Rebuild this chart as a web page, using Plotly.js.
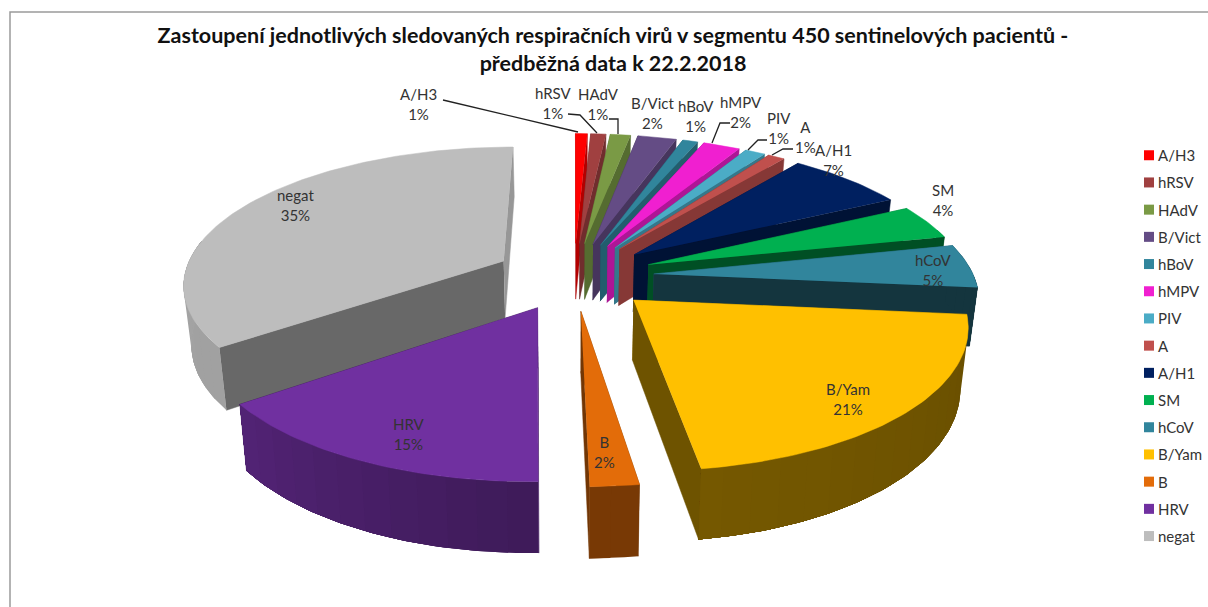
<!DOCTYPE html>
<html><head><meta charset="utf-8">
<script src="https://cdn.plot.ly/plotly-3.0.1.min.js"></script>
<style>html,body{margin:0;padding:0;background:#fff}</style></head>
<body><div id="chart" style="width:1208px;height:607px"></div>
<script>
// ---- data ----
const categories = ['A/H3','hRSV','HAdV','B/Vict','hBoV','hMPV','PIV','A','A/H1','SM','hCoV','B/Yam','B','HRV','negat'];
const values = [0.7,0.9,1.2,2.3,0.9,2.2,1.2,1.0,7,4,5,21,2,15,35];
// ---- styles ----
const colors = ['#ff0000','#a04040','#7a9a45','#644c85','#31859c','#f01fd0','#4bacc6','#c0504d','#002060','#00b050','#31859c','#ffc000','#e36c09','#7030a0','#bdbdbd'];
const outerShadeA = [.6,.6,.6,.6,.6,.6,.6,.6,.5,.45,.4,.41,.53,.56,.85];
const outerShadeB = [.6,.6,.6,.6,.6,.6,.6,.6,.5,.45,.4,.46,.53,.74,.87];
const endShade   = [.7,.7,.7,.7,.7,.72,.7,.7,.55,.45,.4,.43,.5,.6,.8];
const startShade = [.6,.6,.6,.6,.6,.6,.6,.6,.6,.6,.6,.6,.5,.6,.55];
const labelPos = [[418,104],[553,103],[598,104],[652,113],[696,116],[741,112],[779,128],[805,137],[833,160],[943,200],[933,270],[848,399],[604,452],[409,434],[295,205]];
const leaders = [
  [[443,100],[578,132]],
  [[568,114],[580,115],[597,133]],
  [[609,119],[618,119],[618,134]],
  [[730,123],[720,123],[712,143]],
  [[767,140],[758,140],[748,150]],
  [[793,149],[783,149],[772,155]]
];
// ---- projection of the exploded, perspective pie ----
const cx=574, cy=276, A=320, B=136, k=0.155, depth=58, explode=0.25, taper=0.02;
function shade(hex,f){const n=parseInt(hex.slice(1),16);
  return 'rgb('+[(n>>16)&255,(n>>8)&255,n&255].map(c=>Math.round(c*f)).join(',')+')';}
function project(u,v,z){const s=1/(1+k*v);return [cx+A*u*s*(1-taper*z), cy-B*v*s+depth*z*s];}
const total = values.reduce((a,b)=>a+b,0);
const slices=[]; let cum=0;
values.forEach((val,i)=>{
  const a0=cum/total*2*Math.PI; cum+=val; const a1=cum/total*2*Math.PI;
  slices.push({i,a0,a1,mid:(a0+a1)/2});
});
function poly(pts,color,w){return {type:'scatter',mode:'lines',x:pts.map(p=>p[0]),y:pts.map(p=>p[1]),
  fill:'toself',fillcolor:color,line:{color:color,width:w===undefined?0.5:w},hoverinfo:'skip',showlegend:false};}
const traces=[];
slices.slice().sort((p,q)=>Math.cos(q.mid)-Math.cos(p.mid)).forEach(sl=>{
  const i=sl.i, eu=explode*Math.sin(sl.mid), ev=explode*Math.cos(sl.mid), c=colors[i];
  const pt=(a,z)=>project(eu+Math.sin(a),ev+Math.cos(a),z), ap=z=>project(eu,ev,z);
  // radial walls
  traces.push(poly([ap(0),pt(sl.a0,0),pt(sl.a0,1),ap(1)],shade(c,startShade[i])));
  traces.push(poly([ap(0),pt(sl.a1,0),pt(sl.a1,1),ap(1)],shade(c,endShade[i])));
  // outer wall in shaded bands (each band overlays the rest of the wall), then top face
  const n=Math.max(3,Math.ceil((sl.a1-sl.a0)/0.02)); const arc=[];
  for(let j=0;j<=n;j++) arc.push(sl.a0+(sl.a1-sl.a0)*j/n);
  const vis=arc.filter(a=>a<Math.PI*1.55?Math.cos(a)<0.28:Math.cos(a)<0.17);
  const band=4;
  for(let j=0;j+1<vis.length;j+=band){
    const seg=vis.slice(j), t=j/Math.max(1,vis.length-1);
    traces.push(poly(seg.map(a=>pt(a,0)).concat(seg.slice().reverse().map(a=>pt(a,1))),
      shade(c,outerShadeA[i]+(outerShadeB[i]-outerShadeA[i])*t),0));
  }
  traces.push(poly([ap(0)].concat(arc.map(a=>pt(a,0))),c));
});
// legend entries
categories.forEach((name,i)=>traces.push({type:'scatter',mode:'markers',x:[null],y:[null],name:name,legendgroup:name,
  marker:{symbol:'square',size:10,color:colors[i]},hoverinfo:'skip'}));
const font='Lato, "Open Sans", sans-serif';
const annotations=categories.map((name,i)=>({xref:'x',yref:'y',x:labelPos[i][0],y:labelPos[i][1],showarrow:false,
  text:name+'<br>'+Math.round(values[i])+'%',font:{family:font,size:15,color:'#333333'},align:'center'}));
const shapes=leaders.map(l=>({type:'path',xref:'x',yref:'y',path:'M'+l.map(p=>p.join(' ')).join('L'),line:{color:'#222222',width:1.3}}));
shapes.push({type:'rect',xref:'x',yref:'y',x0:10,y0:12,x1:1240,y1:640,line:{color:'#9a9a9a',width:1.5}});
const layout={width:1208,height:607,margin:{l:0,r:0,t:0,b:0,autoexpand:false},paper_bgcolor:'#fff',plot_bgcolor:'#fff',
  title:{text:'Zastoupení jednotlivých sledovaných respiračních virů v segmentu 450 sentinelových pacientů -<br>předběžná data k 22.2.2018',
    x:613/1208,xanchor:'center',y:1-43/607,yanchor:'top',yref:'container',font:{family:font,size:21.5,color:'#111111',weight:'bold'}},
  xaxis:{range:[0,1208],visible:false,fixedrange:true},
  yaxis:{range:[607,0],visible:false,fixedrange:true},
  showlegend:true,
  legend:{x:1129/1208,xanchor:'left',y:1-139/607,yanchor:'top',font:{family:font,size:15,color:'#333333'},
    tracegroupgap:4.7,bgcolor:'rgba(0,0,0,0)'},
  annotations,shapes};
Plotly.newPlot('chart',traces,layout,{displayModeBar:false,staticPlot:true}).then(()=>{
  // bring legend labels close to their swatches, as in the reference
  document.querySelectorAll('.legendtext').forEach(t=>t.setAttribute('x',29));
});
</script></body></html>
